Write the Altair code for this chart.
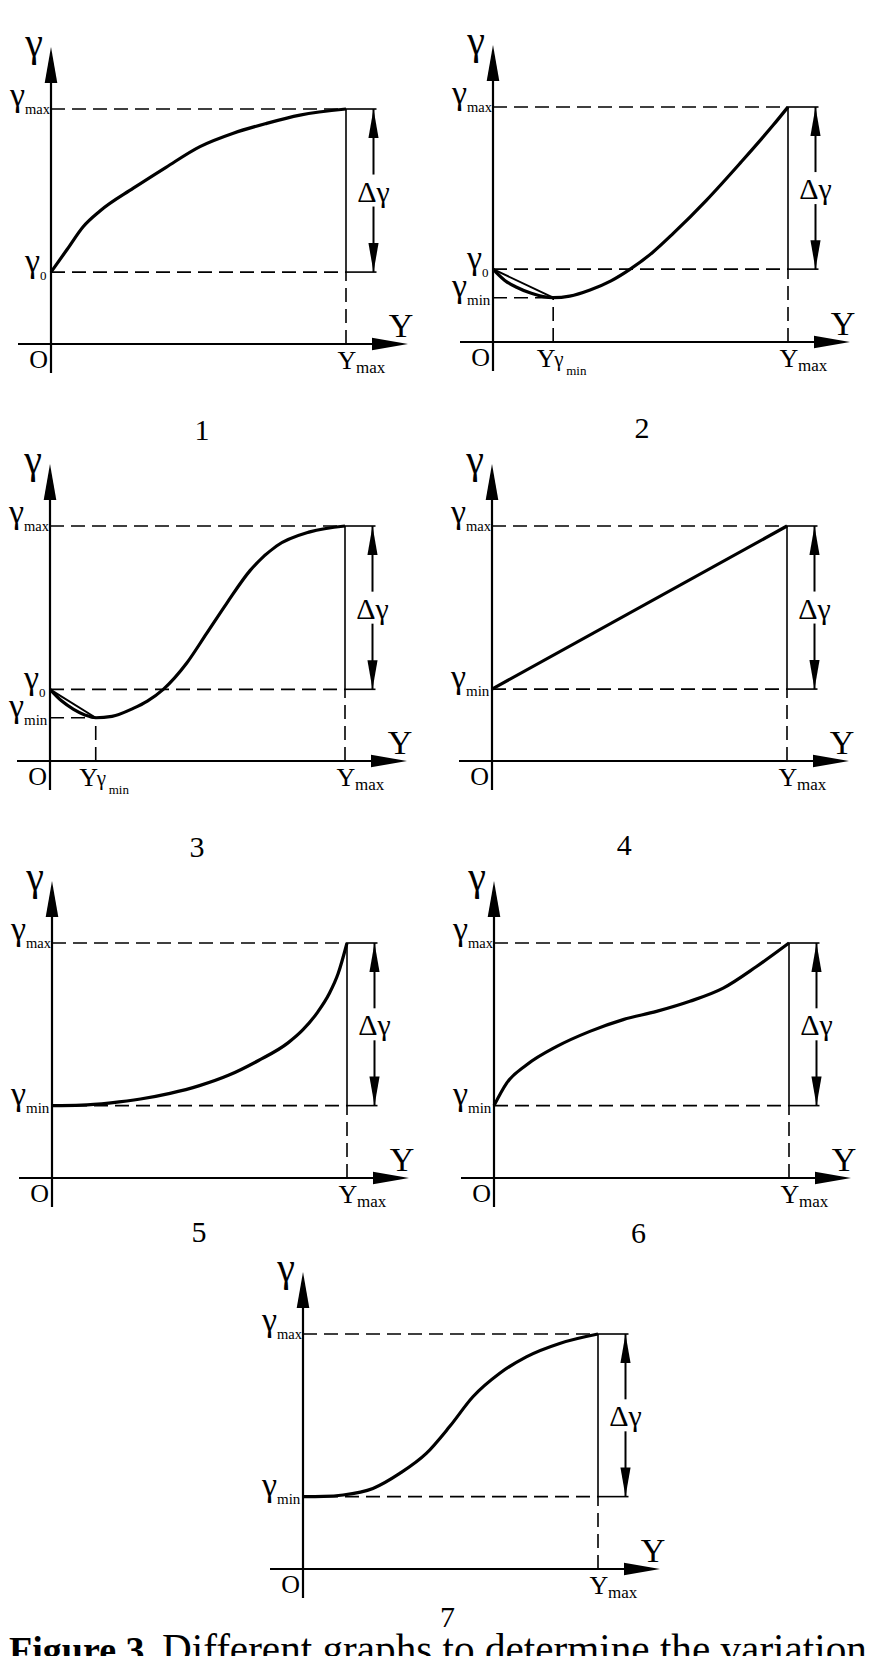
import altair as alt
import pandas as pd

FONT = "Liberation Serif"
INK = "#000000"

# ---------------- values ----------------
# abscissa Y in units where Y_max = 10, ordinate gamma in units where gamma_max = 10
Y_MAX = 10.0
G_MAX = 10.0

# level of the lower dashed line (gamma_0 in graphs 1-3, gamma_min in graphs 4-7)
g_low = {1: 3.06, 2: 3.10, 3: 3.05, 4: 3.06, 5: 3.08, 6: 3.08, 7: 3.08}
low_sub = {1: "0", 2: "0", 3: "0", 4: "min", 5: "min", 6: "min", 7: "min"}
# minimum point (Y_gamma_min, gamma_min) of graphs 2 and 3
min_point = {2: (2.04, 1.885), 3: (1.55, 1.84)}

curve1_Y = [0, 0.55, 1.09, 1.66, 2.79, 3.9, 5.05, 6.18, 7.31, 8.44, 10.0]
curve1_g = [3.06, 4.03, 4.99, 5.66, 6.63, 7.52, 8.40, 8.97, 9.39, 9.74, 10.0]
curve2_Y = [0, 0.4, 0.8, 1.3, 1.7, 2.04, 2.6, 3.29, 4.0, 4.64, 5.4, 6.11, 7.24, 8.37, 9.5, 10.0]
curve2_g = [3.1, 2.62, 2.33, 2.07, 1.93, 1.885, 1.95, 2.21, 2.6, 3.09, 3.8, 4.62, 6.04, 7.6, 9.23, 10.0]
curve3_Y = [0, 0.4, 0.8, 1.2, 1.55, 2.1, 2.82, 3.3, 3.84, 4.63, 5.31, 5.99, 6.78, 7.68, 8.81, 10.0]
curve3_g = [3.05, 2.55, 2.2, 1.95, 1.84, 1.9, 2.24, 2.55, 3.05, 4.16, 5.43, 6.71, 8.1, 9.15, 9.75, 10.0]
curve4_Y = [0, 10.0]
curve4_g = [3.06, 10.0]
curve5_Y = [0, 1.0, 2.0, 3.0, 4.0, 5.0, 6.0, 7.0, 8.0, 8.5, 9.0, 9.4, 9.7, 10.0]
curve5_g = [3.08, 3.10, 3.20, 3.36, 3.60, 3.93, 4.38, 5.0, 5.75, 6.3, 7.05, 7.85, 8.7, 10.0]
curve6_Y = [0, 0.43, 1.11, 2.13, 3.25, 4.38, 5.51, 6.64, 7.77, 8.9, 10.0]
curve6_g = [3.08, 4.04, 4.82, 5.6, 6.24, 6.74, 7.09, 7.52, 8.08, 9.0, 10.0]
curve7_Y = [0, 0.7, 1.36, 2.37, 3.28, 4.18, 4.97, 5.76, 6.67, 7.57, 8.7, 10.0]
curve7_g = [3.08, 3.09, 3.15, 3.43, 4.07, 4.92, 6.06, 7.33, 8.33, 9.03, 9.6, 10.0]

curves = {1: (curve1_Y, curve1_g), 2: (curve2_Y, curve2_g), 3: (curve3_Y, curve3_g),
          4: (curve4_Y, curve4_g), 5: (curve5_Y, curve5_g), 6: (curve6_Y, curve6_g),
          7: (curve7_Y, curve7_g)}

panel_numbers = {1: "1", 2: "2", 3: "3", 4: "4", 5: "5", 6: "6", 7: "7"}
caption_bold = "Figure 3."
caption_text = "Different graphs to determine the variation"

# ---------------- layout (pixels) ----------------
PX, PY = 29.5, 23.5          # pixels per unit along Y and gamma
LAYOUT = {
    1: dict(W=438, H=437, ox=43, oy=336),
    2: dict(W=434, H=437, ox=47, oy=334),
    3: dict(W=438, H=419, ox=42, oy=316),
    4: dict(W=434, H=419, ox=46, oy=316),
    5: dict(W=438, H=391, ox=44, oy=314),
    6: dict(W=434, H=391, ox=48, oy=314),
    7: dict(W=872, H=401, ox=295, oy=314),
}
NUM_AT = {1: (5.12, -4.09), 2: (5.05, -4.09), 3: (4.98, -4.09), 4: (4.48, -4.0),
          5: (4.98, -2.72), 6: (4.9, -2.75), 7: (4.9, -2.47)}
G_TIP = 297 / PY             # tip of the gamma-axis arrow
X_TIP = 357 / PX             # tip of the Y-axis arrow
G_AXIS_BOTTOM = -29 / PY
X_AXIS_LEFT = -33 / PX
DG_X = 322.5 / PX            # delta-gamma double arrow
RIGHT_END = 325.5 / PX       # right end of the solid extension lines
GAP = 16 / PY
CAP_BOLD_X = (154 - 303) / PX
CAP_TEXT_X = (162 - 303) / PX
CAP_Y = -94 / PY

ARROW = "M0,0L0.35,2L-0.35,2Z"   # tip at the anchor point
DASH = [14, 7]


def build_panel(i):
    L = LAYOUT[i]
    xs = alt.Scale(domain=[-L["ox"] / PX, (L["W"] - L["ox"]) / PX], nice=False, zero=False)
    ys = alt.Scale(domain=[-(L["H"] - L["oy"]) / PY, L["oy"] / PY], nice=False, zero=False)

    def X(f):
        return alt.X(f"{f}:Q", scale=xs, axis=None)

    def Yc(f):
        return alt.Y(f"{f}:Q", scale=ys, axis=None)

    layers = []

    def hrules(rows, width, dashed=False):
        df = pd.DataFrame(rows, columns=["x", "x2", "y"])
        kw = dict(color=INK, strokeWidth=width, clip=True)
        if dashed:
            kw["strokeDash"] = DASH
        layers.append(alt.Chart(df).mark_rule(**kw).encode(x=X("x"), x2="x2", y=Yc("y")))

    def vrules(rows, width, dashed=False):
        df = pd.DataFrame(rows, columns=["x", "y", "y2"])
        kw = dict(color=INK, strokeWidth=width, clip=True)
        if dashed:
            kw["strokeDash"] = DASH
        layers.append(alt.Chart(df).mark_rule(**kw).encode(x=X("x"), y=Yc("y"), y2="y2"))

    def heads(rows, length, angle):
        df = pd.DataFrame(rows, columns=["x", "y"])
        layers.append(alt.Chart(df).mark_point(shape=ARROW, size=length * length, filled=True,
                                               opacity=1, color=INK, strokeWidth=0, angle=angle,
                                               clip=True)
                      .encode(x=X("x"), y=Yc("y")))

    def texts(rows, size, align, dx, dy, weight="normal", baseline="alphabetic"):
        df = pd.DataFrame(rows, columns=["x", "y", "t"])
        layers.append(alt.Chart(df).mark_text(font=FONT, fontSize=size, align=align,
                                              baseline=baseline, dx=dx, dy=dy, color=INK,
                                              fontWeight=weight, clip=True)
                      .encode(x=X("x"), y=Yc("y"), text="t:N"))

    gl = g_low[i]
    # dashed guides
    hd = [(0, Y_MAX, G_MAX), (0, Y_MAX, gl)]
    vd = [(Y_MAX, 0, gl)]
    if i in min_point:
        ym, gm = min_point[i]
        hd.append((0, ym, gm))
        vd.append((ym, 0, gm))
    hrules(hd, 1.6, dashed=True)
    vrules(vd, 1.6, dashed=True)
    # solid guides
    hrules([(Y_MAX, RIGHT_END, G_MAX), (Y_MAX, RIGHT_END, gl)], 1.6)
    vrules([(Y_MAX, gl, G_MAX)], 1.6)
    # axes
    vrules([(0, G_AXIS_BOTTOM, G_TIP - 0.5)], 2.2)
    hrules([(X_AXIS_LEFT, X_TIP - 0.5, 0)], 2.2)
    heads([(0, G_TIP)], 36, 0)
    heads([(X_TIP, 0)], 36, 90)
    # delta gamma double arrow
    mid = (gl + G_MAX) / 2
    vrules([(DG_X, gl, mid - GAP), (DG_X, mid + GAP, G_MAX)], 2.0)
    heads([(DG_X, G_MAX)], 29, 0)
    heads([(DG_X, gl)], 29, 180)
    texts([(DG_X, mid, "\u0394\u03b3")], 30, "center", 0, 11)

    # curve
    cy, cg = curves[i]
    cdf = pd.DataFrame({"Y": cy, "g": cg, "k": range(len(cy))})
    layers.append(alt.Chart(cdf).mark_line(color=INK, strokeWidth=3.2, interpolate="monotone",
                                           clip=True)
                  .encode(x=X("Y"), y=Yc("g"), order="k:Q"))
    if i in min_point:
        ym, gm = min_point[i]
        chord = pd.DataFrame({"Y": [0, ym], "g": [gl, gm]})
        layers.append(alt.Chart(chord).mark_line(color=INK, strokeWidth=2.0, clip=True)
                      .encode(x=X("Y"), y=Yc("g")))

    # axis names
    texts([(0, G_TIP, "\u03b3")], 40, "center", -17, 9)
    texts([(X_TIP, 0, "Y")], 34, "center", -7, -7)
    texts([(0, 0, "O")], 26, "right", -3, 24)
    # Y_max
    texts([(Y_MAX, 0, "Y")], 26, "center", 1, 25)
    texts([(Y_MAX, 0, "max")], 17, "left", 10, 29)
    # gamma_max
    texts([(0, G_MAX, "\u03b3")], 34, "right", -26, -3)
    texts([(0, G_MAX, "max")], 14.5, "left", -26, 5)
    # lower level
    if low_sub[i] == "0":
        texts([(0, gl, "\u03b3")], 34, "right", -11, 0)
        texts([(0, gl, "0")], 13, "left", -11, 8)
    else:
        texts([(0, gl, "\u03b3")], 34, "right", -26, -1)
        texts([(0, gl, "min")], 15, "left", -26, 7)
    if i in min_point:
        ym, gm = min_point[i]
        texts([(0, gm, "\u03b3")], 34, "right", -26, -1)
        texts([(0, gm, "min")], 15, "left", -26, 7)
        texts([(ym, 0, "Y")], 26, "center", -7, 25)
        texts([(ym, 0, "\u03b3")], 21, "left", 1, 24)
        texts([(ym, 0, "min")], 13, "left", 13, 33)
    # panel number
    nx, ny = NUM_AT[i]
    texts([(nx, ny, panel_numbers[i])], 30, "center", 0, 0)
    if i == 7:
        texts([(CAP_BOLD_X, CAP_Y, caption_bold)], 38, "right", 0, 0, weight="bold")
        texts([(CAP_TEXT_X, CAP_Y, caption_text)], 41.2, "left", 0, 0)

    return alt.layer(*layers).properties(width=L["W"], height=L["H"])


row1 = alt.hconcat(build_panel(1), build_panel(2), spacing=0)
row2 = alt.hconcat(build_panel(3), build_panel(4), spacing=0)
row3 = alt.hconcat(build_panel(5), build_panel(6), spacing=0)
row4 = build_panel(7)

chart = (alt.vconcat(row1, row2, row3, row4, spacing=0)
         .properties(padding=0, background="white")
         .configure_view(stroke=None))

chart.save("out.html", embed_options={"renderer": "svg", "actions": False})
